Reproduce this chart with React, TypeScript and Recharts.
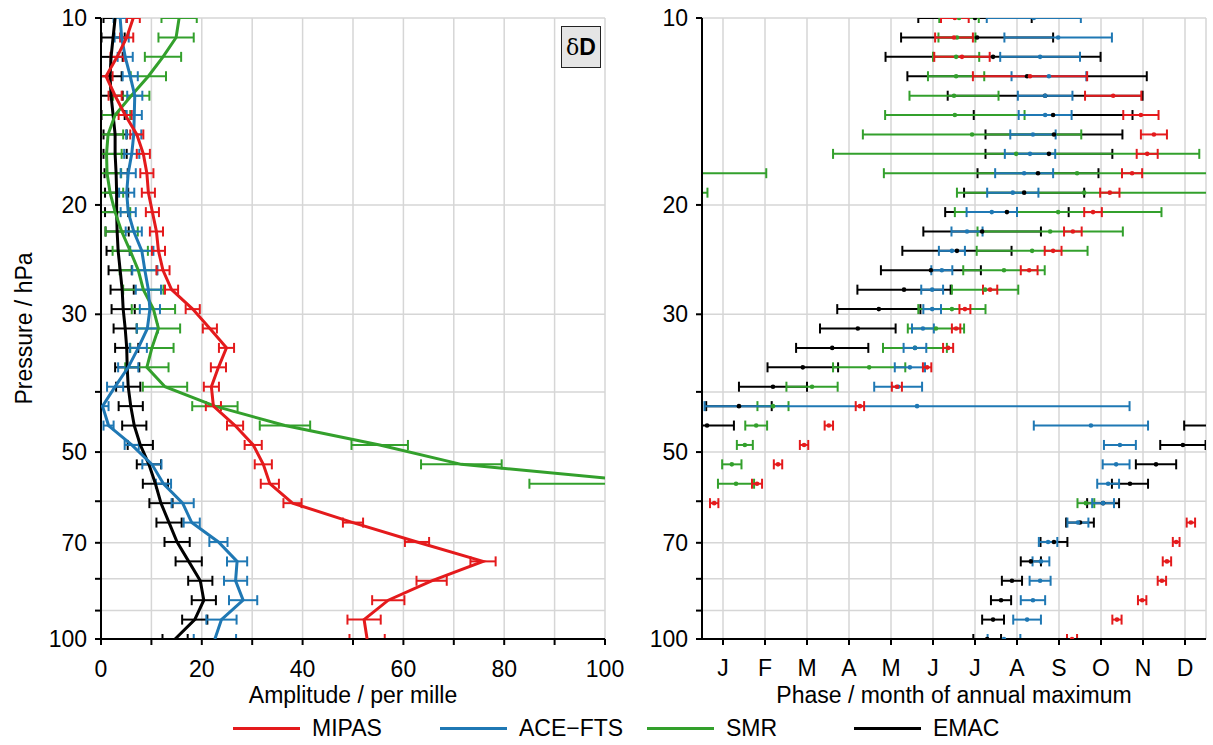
import React from 'react';
import { ScatterChart, Scatter, XAxis, YAxis, CartesianGrid, ErrorBar } from 'recharts';

// pressure levels (hPa), 32 steps per decade
const levels = [
  10.0, 10.75, 11.55, 12.41, 13.34, 14.33, 15.4, 16.55, 17.78, 19.11, 20.54,
  22.07, 23.71, 25.48, 27.38, 29.43, 31.62, 33.98, 36.52, 39.24, 42.17, 45.32,
  48.7, 52.33, 56.23, 60.43, 64.94, 69.78, 74.99, 80.58, 86.6, 93.06, 100.0,
];

const pressureTicks = [10, 20, 30, 40, 50, 60, 70, 80, 90, 100];
const pressureLabels = [10, 20, 30, 50, 70, 100];
const ampTicks = [0, 10, 20, 30, 40, 50, 60, 70, 80, 90, 100];
const monthTicks = [1, 2, 3, 4, 5, 6, 7, 8, 9, 10, 11, 12];
const monthLabels = ['J', 'F', 'M', 'A', 'M', 'J', 'J', 'A', 'S', 'O', 'N', 'D'];

// amplitude (per mille)
const mipasAmp = [6.4, 5.1, 3.2, 1.0, 2.8, 4.8, 7.1, 8.4, 9.1, 9.4, 10.2, 11.0, 11.4, 12.3, 14.0, 18.2, 21.6, 24.9, 23.3, 21.9, 22.3, 26.6, 30.2, 32.2, 33.5, 38.0, 50.0, 62.7, 75.8, 65.6, 57.0, 52.2, 52.8];
const mipasAmpErr = [1.3, 1.3, 1.3, 1.3, 1.3, 1.3, 1.3, 1.3, 1.3, 1.3, 1.3, 1.3, 1.3, 1.3, 1.3, 1.4, 1.4, 1.5, 1.5, 1.5, 1.5, 1.6, 1.7, 1.7, 1.8, 1.8, 2.0, 2.4, 2.5, 3.0, 3.2, 3.3, 3.5];
const aceAmp = [3.8, 4.1, 4.8, 5.8, 6.7, 6.6, 6.5, 6.1, 5.4, 5.1, 5.4, 6.5, 8.1, 8.7, 9.4, 9.7, 9.2, 7.4, 5.4, 2.8, 0.3, 1.5, 6.1, 10.1, 12.4, 16.2, 18.0, 23.3, 27.0, 26.7, 28.2, 23.9, 22.6];
const aceAmpErr = [1.3, 1.4, 1.5, 1.5, 1.5, 1.5, 1.5, 1.5, 1.5, 1.5, 1.5, 1.6, 2.3, 2.5, 2.5, 2.0, 2.1, 1.7, 2.0, 1.6, 1.2, 1.0, 1.4, 1.9, 1.5, 2.2, 1.6, 1.8, 2.0, 2.3, 2.8, 3.0, 4.2];
const smrAmp = [15.5, 14.9, 12.3, 9.4, 6.0, 2.8, 1.4, 1.1, 1.2, 1.8, 2.8, 4.1, 5.8, 7.4, 8.4, 10.4, 11.4, 10.1, 9.1, 12.7, 22.6, 36.5, 55.3, 71.5, 112.0];
const smrAmpErr = [3.5, 3.5, 3.6, 3.5, 3.6, 3.0, 3.0, 3.0, 2.8, 2.6, 3.0, 3.2, 3.5, 3.7, 4.0, 4.3, 4.3, 4.3, 4.3, 4.4, 4.5, 5.0, 5.6, 8.0, 27.0];
const emacAmp = [2.8, 2.4, 2.0, 1.8, 2.0, 2.4, 2.8, 2.8, 3.0, 3.1, 3.1, 3.2, 3.4, 3.8, 4.2, 4.4, 4.8, 5.1, 5.2, 5.4, 5.9, 6.6, 7.8, 9.5, 10.8, 11.9, 13.5, 15.1, 17.4, 19.7, 20.4, 18.6, 14.7];
const emacAmpErr = [2.3, 2.3, 2.3, 2.3, 2.3, 2.3, 2.3, 2.3, 2.3, 2.3, 2.3, 2.3, 2.3, 2.3, 2.3, 2.3, 2.3, 2.3, 2.4, 2.4, 2.4, 2.4, 2.5, 2.4, 2.5, 2.3, 2.5, 2.5, 2.6, 2.4, 2.4, 2.5, 2.5];

// phase (month of annual maximum, 1 = January)
const mipasPhase = [6.52, 6.5, 6.69, 8.31, 10.29, 10.95, 11.26, 11.1, 10.74, 10.21, 9.81, 9.33, 8.86, 8.29, 7.36, 6.76, 6.55, 6.36, 5.86, 5.14, 4.26, 3.52, 2.93, 2.31, 1.81, 0.79, 12.14, 11.79, 11.57, 11.45, 10.98, 10.38, 9.31];
const mipasPhaseErr = [0.33, 0.45, 0.66, 1.36, 0.67, 0.42, 0.31, 0.25, 0.24, 0.23, 0.21, 0.21, 0.2, 0.2, 0.17, 0.13, 0.1, 0.12, 0.1, 0.12, 0.1, 0.1, 0.1, 0.1, 0.12, 0.1, 0.1, 0.08, 0.1, 0.1, 0.1, 0.11, 0.12];
const acePhase = [8.4, 8.98, 8.55, 8.76, 8.67, 8.67, 8.38, 8.31, 8.17, 7.9, 7.4, 6.81, 6.45, 6.21, 5.98, 5.98, 5.76, 5.57, 5.45, 5.17, 5.62, 9.76, 10.45, 10.36, 10.17, 10.05, 9.45, 8.74, 8.57, 8.55, 8.38, 8.24, 7.69];
const acePhaseErr = [1.12, 1.28, 0.95, 0.89, 0.65, 0.63, 0.54, 0.6, 0.69, 0.61, 0.6, 0.37, 0.31, 0.25, 0.26, 0.21, 0.26, 0.27, 0.36, 0.57, 5.06, 1.36, 0.38, 0.32, 0.26, 0.26, 0.25, 0.22, 0.2, 0.25, 0.29, 0.33, 0.39];
const smrPhase = [6.62, 6.57, 6.55, 6.55, 6.5, 6.52, 6.93, 7.98, 9.43, 9.6, 8.98, 8.79, 8.36, 7.69, 7.24, 6.45, 6.07, 5.57, 4.48, 3.12, 2.19, 1.79, 1.52, 1.21, 1.31, 9.64];
const smrPhaseErr = [0.47, 0.44, 0.55, 0.67, 1.06, 1.66, 2.6, 4.36, 4.6, 3.03, 2.46, 1.73, 1.32, 0.97, 0.79, 0.8, 0.67, 0.76, 0.86, 0.61, 0.37, 0.26, 0.19, 0.23, 0.43, 0.2];
const emacPhase = [7.0, 7.05, 7.43, 8.24, 8.67, 8.86, 8.88, 8.76, 8.5, 8.17, 7.76, 7.17, 6.57, 5.95, 5.31, 4.71, 4.21, 3.6, 2.9, 2.19, 1.38, 0.62, 11.95, 11.31, 10.69, 10.05, 9.5, 8.88, 8.33, 7.88, 7.62, 7.43, 7.29];
const emacPhaseErr = [1.35, 1.81, 2.56, 2.85, 2.32, 1.89, 1.63, 1.51, 1.44, 1.43, 1.47, 1.4, 1.3, 1.19, 1.11, 0.99, 0.9, 0.86, 0.84, 0.81, 0.78, 0.64, 0.54, 0.48, 0.43, 0.38, 0.33, 0.32, 0.24, 0.24, 0.24, 0.26, 0.33];

// error bars that run past December / January, repeated one year over
const smrPhaseWrap = [
  { level: 8, phase: 9.43 - 12, err: 4.6 },
  { level: 9, phase: 9.6 - 12, err: 3.03 },
];
const emacPhaseWrap = [{ level: 21, phase: 0.62 + 12, err: 0.64 }];

const colors: Record<string, string> = { mipas: '#e41a1c', ace: '#1f78b4', smr: '#33a02c', emac: '#000000' };
const names: Record<string, string> = { mipas: 'MIPAS', ace: 'ACE\u2212FTS', smr: 'SMR', emac: 'EMAC' };

const rows = (vals: number[], errs: number[]) =>
  vals.map((v, i) => ({ p: levels[i], v, e: errs[i] }));
const wrapRows = (list: { level: number; phase: number; err: number }[]) =>
  list.map((w) => ({ p: levels[w.level], v: w.phase, e: w.err }));

const font = '"Liberation Sans", Arial, Helvetica, sans-serif';
const tickStyle = { fontSize: 23, fill: '#000' };
const axisLine = { stroke: '#000', strokeWidth: 2 };
const blank = () => '';
const pressureFmt = (v: number) => (pressureLabels.includes(v) ? String(v) : '');

const NoDot = () => <g />;
const dot = (c: string) => (props: any) => <circle cx={props.cx} cy={props.cy} r={2.3} fill={c} />;

// drawing order: EMAC at the back, MIPAS on top
const ampSeries = [
  { key: 'emac', data: rows(emacAmp, emacAmpErr) },
  { key: 'smr', data: rows(smrAmp, smrAmpErr) },
  { key: 'ace', data: rows(aceAmp, aceAmpErr) },
  { key: 'mipas', data: rows(mipasAmp, mipasAmpErr) },
];

const phaseSeries = [
  { key: 'emac', data: [...rows(emacPhase, emacPhaseErr), ...wrapRows(emacPhaseWrap)] },
  { key: 'smr', data: [...rows(smrPhase, smrPhaseErr), ...wrapRows(smrPhaseWrap)] },
  { key: 'ace', data: rows(acePhase, acePhaseErr) },
  { key: 'mipas', data: rows(mipasPhase, mipasPhaseErr) },
];

const legendKeys = ['mipas', 'ace', 'smr', 'emac'];

export default function App() {
  return (
    <div style={{ position: 'absolute', left: 0, top: 0, width: 1213, height: 745, fontFamily: font, background: '#fff' }}>
      <div style={{ position: 'absolute', left: 0, top: 0 }}>
        <ScatterChart width={640} height={710} margin={{ top: 18, right: 35, bottom: 7, left: 21 }}>
          <CartesianGrid stroke="#d6d6d6" strokeWidth={1.5} />
          <XAxis
            type="number"
            dataKey="v"
            domain={[0, 100]}
            ticks={ampTicks}
            interval={0}
            allowDataOverflow
            tickFormatter={(v: number) => (v % 20 === 0 ? String(v) : '')}
            height={64}
            tickSize={6}
            tickMargin={16}
            tick={tickStyle}
            axisLine={axisLine}
            tickLine={axisLine}
            label={{ value: 'Amplitude / per mille', position: 'insideBottom', offset: 0, fill: '#000', fontSize: 23 }}
          />
          <XAxis xAxisId="top" orientation="top" type="number" domain={[0, 100]} ticks={ampTicks} interval={0}
            height={0} tickSize={6} tickFormatter={blank} axisLine={axisLine} tickLine={axisLine} />
          <YAxis
            type="number"
            dataKey="p"
            scale="log"
            domain={[10, 100]}
            reversed
            allowDataOverflow
            ticks={pressureTicks}
            interval={0}
            tickFormatter={pressureFmt}
            width={80}
            tickSize={6}
            tickMargin={8}
            tick={tickStyle}
            axisLine={axisLine}
            tickLine={axisLine}
            label={{ value: 'Pressure / hPa', angle: -90, position: 'insideLeft', offset: 3, fill: '#000', fontSize: 23, style: { textAnchor: 'middle' } }}
          />
          <YAxis yAxisId="right" orientation="right" type="number" scale="log" domain={[10, 100]} reversed
            ticks={pressureTicks} interval={0} width={0} tickSize={6} tickFormatter={blank} axisLine={axisLine} tickLine={axisLine} />
          {ampSeries.map((s) => {
            const c = colors[s.key];
            const id = `amp-${s.key}`;
            return (
              <Scatter key={s.key} id={id} name={names[s.key]} data={s.data} fill={c} shape={NoDot}
                line={{ stroke: c, strokeWidth: 3 }} lineType="joint" isAnimationActive={false}>
                <ErrorBar dataKey="e" direction="x" width={5} stroke={c} strokeWidth={2}
                  clipPath={`url(#clipPath-${id})`} isAnimationActive={false} />
              </Scatter>
            );
          })}
        </ScatterChart>
      </div>

      <div style={{ position: 'absolute', left: 561, top: 26, width: 40, height: 42, boxSizing: 'border-box', background: '#e5e5e5', border: '1px solid #222', display: 'flex', alignItems: 'center', justifyContent: 'center', fontSize: 23 }}>
        <span style={{ fontFamily: '"DejaVu Serif", "Liberation Serif", serif', fontSize: 22 }}>δ</span>
        <span style={{ fontWeight: 'bold' }}>D</span>
      </div>

      <div style={{ position: 'absolute', left: 606, top: 0 }}>
        <ScatterChart width={607} height={710} margin={{ top: 18, right: 7, bottom: 7, left: 16 }}>
          <CartesianGrid stroke="#d6d6d6" strokeWidth={1.5} />
          <XAxis
            type="number"
            dataKey="v"
            domain={[0.5, 12.5]}
            ticks={monthTicks}
            interval={0}
            allowDataOverflow
            tickFormatter={(v: number) => monthLabels[v - 1]}
            height={64}
            tickSize={6}
            tickMargin={15}
            tick={tickStyle}
            axisLine={axisLine}
            tickLine={axisLine}
            label={{ value: 'Phase / month of annual maximum', position: 'insideBottom', offset: 0, fill: '#000', fontSize: 23 }}
          />
          <XAxis xAxisId="top" orientation="top" type="number" domain={[0.5, 12.5]} ticks={monthTicks} interval={0}
            height={0} tickSize={6} tickFormatter={blank} axisLine={axisLine} tickLine={axisLine} />
          <YAxis
            type="number"
            dataKey="p"
            scale="log"
            domain={[10, 100]}
            reversed
            allowDataOverflow
            ticks={pressureTicks}
            interval={0}
            tickFormatter={pressureFmt}
            width={80}
            tickSize={6}
            tickMargin={8}
            tick={tickStyle}
            axisLine={axisLine}
            tickLine={axisLine}
          />
          <YAxis yAxisId="right" orientation="right" type="number" scale="log" domain={[10, 100]} reversed
            ticks={pressureTicks} interval={0} width={0} tickSize={6} tickFormatter={blank} axisLine={axisLine} tickLine={axisLine} />
          {phaseSeries.map((s) => {
            const c = colors[s.key];
            const id = `phase-${s.key}`;
            return (
              <Scatter key={s.key} id={id} name={names[s.key]} data={s.data} fill={c} shape={dot(c)} isAnimationActive={false}>
                <ErrorBar dataKey="e" direction="x" width={5} stroke={c} strokeWidth={2}
                  clipPath={`url(#clipPath-${id})`} isAnimationActive={false} />
              </Scatter>
            );
          })}
        </ScatterChart>
      </div>

      <div style={{ position: 'absolute', left: 233, top: 713, display: 'flex', fontSize: 23, lineHeight: '30px' }}>
        {legendKeys.map((k) => (
          <div key={k} style={{ width: 207, display: 'flex', alignItems: 'center' }}>
            <span style={{ display: 'inline-block', flex: '0 0 67px', height: 3, background: colors[k], marginRight: 12 }} />
            <span>{names[k]}</span>
          </div>
        ))}
      </div>
    </div>
  );
}
